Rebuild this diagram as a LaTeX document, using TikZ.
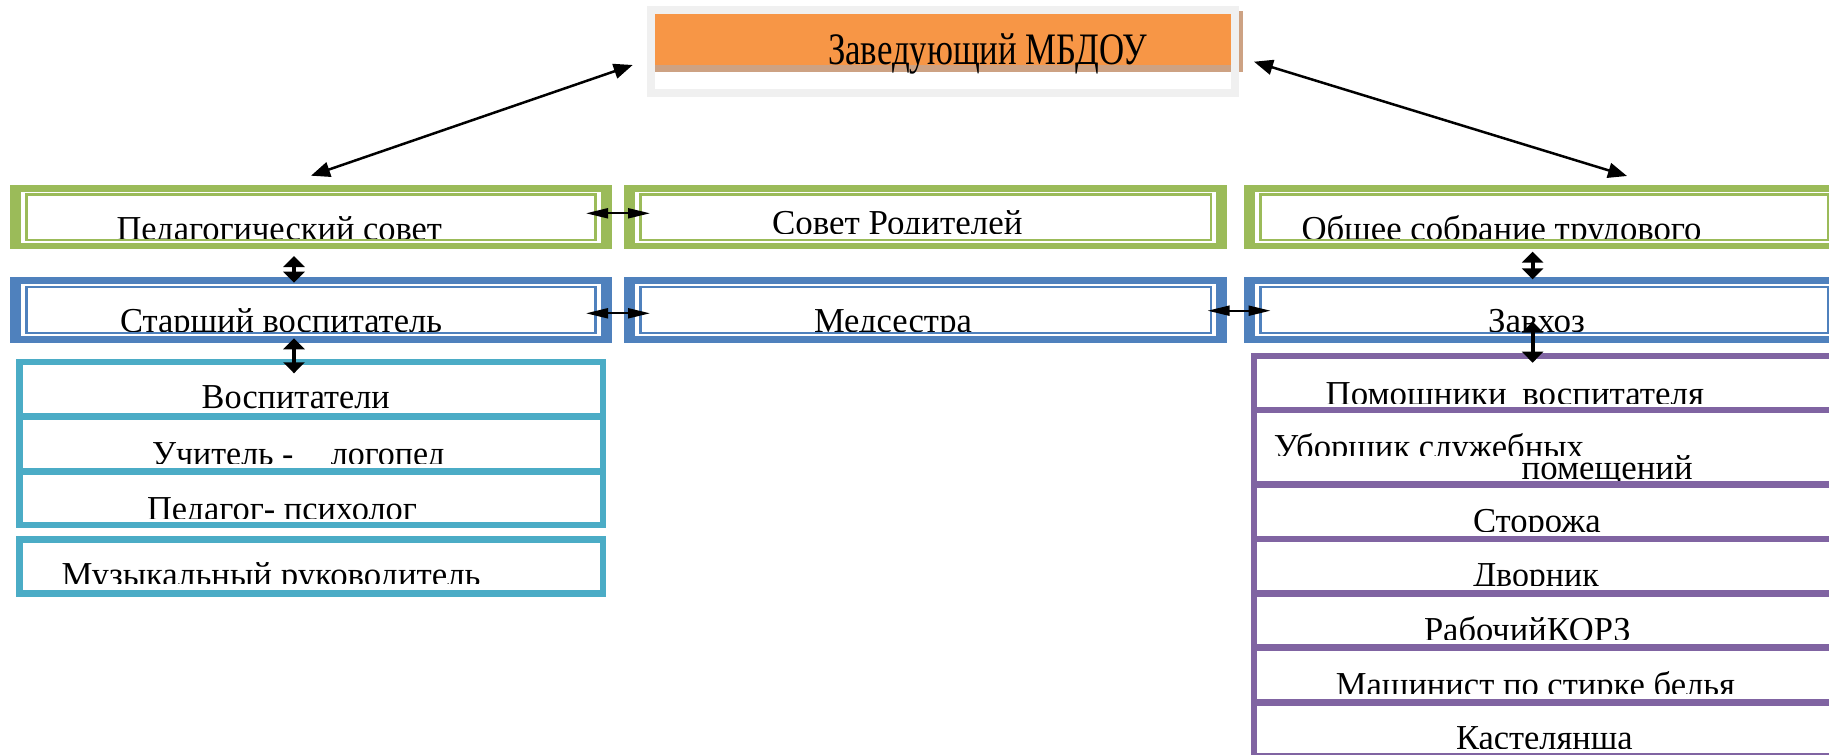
\documentclass[tikz,border=0pt]{standalone}
\usepackage{fontspec}
\setmainfont{Liberation Serif}
\usepackage{graphicx}
\usetikzlibrary{arrows.meta}
\definecolor{cgreen}{HTML}{9BBB59}
\definecolor{cblue}{HTML}{4F81BD}
\definecolor{ccyan}{HTML}{4BACC6}
\definecolor{cpurple}{HTML}{8064A2}
\definecolor{corange}{HTML}{F79646}
\definecolor{ctan}{HTML}{CDA283}
\definecolor{cframe}{HTML}{F0F0F0}
\tikzset{
  boxnode/.style={inner sep=0pt, outer sep=0pt, anchor=north west},
  lbl/.style={inner sep=0pt, outer sep=0pt, anchor=base west, font=\fontsize{35}{40}\selectfont},
  ttl/.style={inner sep=0pt, outer sep=0pt, anchor=base west, font=\fontsize{45}{50}\selectfont},
  cellbox/.style={boxnode, draw=#1, line width=6.5pt},
  harrow/.style={line width=2pt, {Triangle[length=22pt,width=10pt]}-{Triangle[length=22pt,width=10pt]}},
  varrow/.style={line width=4pt, {Triangle[length=11pt,width=21pt]}-{Triangle[length=11pt,width=21pt]}},
  darrow/.style={line width=2.5pt, {Triangle[length=19pt,width=15pt]}-{Triangle[length=19pt,width=15pt]}}
}
% double (thick-thin) bordered box: name, x, y, width, height, colour
\newcommand{\dblbox}[6]{%
  \node[boxnode, fill=#6, minimum width=#4pt, minimum height=#5pt] (#1) at (#2,#3) {};
  \fill[white] ([shift={(11,6.5)}]#1.north west) rectangle ([shift={(-11,-6.5)}]#1.south east);
  \draw[#6, line width=2.5pt] ([shift={(16.5,9.5)}]#1.north west) rectangle ([shift={(-16.5,-9.5)}]#1.south east);
}
% clipped label: name, x, baseline, width, cut y, text
\newcommand{\cutlbl}[6]{%
  \begin{scope}
    \clip (#2-10,#3-60) rectangle (#2+#4+10,#5);
    \node[lbl] (#1) at (#2,#3) {\resizebox{#4pt}{\height}{#6}};
  \end{scope}
}
\begin{document}
\begin{tikzpicture}[x=1pt,y=-1pt]
\useasboundingbox (0,0) rectangle (1829,755);

% ---- head box ----
\fill[ctan] (650,11) rectangle (1243.3,71.7);
\node[boxnode, draw=cframe, line width=8pt, minimum width=584.2pt, minimum height=83.3pt] (headframe) at (650.6,10) {};
\node[boxnode, fill=corange, minimum width=576pt, minimum height=51pt] (head) at (654.7,14) {};
\node[ttl] (headtxt) at (828,64) {\resizebox{319pt}{\height}{Заведующий МБДОУ}};

% ---- green row ----
\dblbox{g1}{10}{185}{602}{64.3}{cgreen}
\dblbox{g2}{624}{185}{603.4}{64.3}{cgreen}
\dblbox{g3}{1244}{185}{601}{64.3}{cgreen}
% ---- blue row ----
\dblbox{b1}{10}{277.3}{602}{65.4}{cblue}
\dblbox{b2}{624}{277.3}{603.4}{65.4}{cblue}
\dblbox{b3}{1244}{277.3}{601}{65.4}{cblue}

% ---- cyan column ----
\node[cellbox=ccyan, minimum width=583.6pt, minimum height=54.5pt] (c1) at (19.4,362.2) {};
\node[cellbox=ccyan, minimum width=583.6pt, minimum height=54.6pt] (c2) at (19.4,416.7) {};
\node[cellbox=ccyan, minimum width=583.6pt, minimum height=53.7pt] (c3) at (19.4,471.3) {};
\node[cellbox=ccyan, minimum width=583.6pt, minimum height=53.6pt] (c4) at (19.4,539.7) {};

% ---- purple column ----
\node[cellbox=cpurple, minimum width=600pt, minimum height=54pt] (p1) at (1253.8,356) {};
\node[cellbox=cpurple, minimum width=600pt, minimum height=74.7pt] (p2) at (1253.8,410) {};
\node[cellbox=cpurple, minimum width=600pt, minimum height=54.5pt] (p3) at (1253.8,484.7) {};
\node[cellbox=cpurple, minimum width=600pt, minimum height=54.5pt] (p4) at (1253.8,539.2) {};
\node[cellbox=cpurple, minimum width=600pt, minimum height=54pt] (p5) at (1253.8,593.7) {};
\node[cellbox=cpurple, minimum width=600pt, minimum height=54.8pt] (p6) at (1253.8,647.7) {};
\node[cellbox=cpurple, minimum width=600pt, minimum height=53.5pt] (p7) at (1253.8,702.5) {};

% ---- labels ----
\cutlbl{tg1}{116.5}{240}{325.5}{238.3}{Педагогический совет}
\cutlbl{tg2}{772}{234.8}{250.5}{233.5}{Совет Родителей}
\cutlbl{tg3}{1301.5}{240}{400}{238.3}{Общее собрание трудового}
\cutlbl{tb1}{120}{332.5}{322}{331.7}{Старший воспитатель}
\cutlbl{tb2}{814}{332.5}{158}{331.7}{Медсестра}
\cutlbl{tb3}{1488}{332.5}{97}{331.7}{Завхоз}
\cutlbl{tc1}{201.7}{408.3}{188}{415}{Воспитатели}
\cutlbl{tc2}{152}{465}{293}{463.3}{Учитель -\hspace{1.1em}логопед}
\cutlbl{tc3}{147}{520}{270}{518.3}{Педагог- психолог}
\cutlbl{tc4}{61.5}{586.5}{419}{583.3}{Музыкальный руководитель}
\cutlbl{tp1}{1325.6}{405}{378.4}{403.3}{Помощники\hspace{0.45em}воспитателя}
\cutlbl{tp2a}{1273.8}{458.2}{310}{455}{Уборщик служебных}
\cutlbl{tp2b}{1521.7}{479.5}{171}{480}{помещений}
\cutlbl{tp3}{1473}{532.5}{127.6}{531.7}{Сторожа}
\cutlbl{tp4}{1473}{586}{125.8}{585}{Дворник}
\cutlbl{tp5}{1424}{641}{206.7}{639.3}{РабочийКОРЗ}
\cutlbl{tp6}{1335.8}{696}{399.2}{693.3}{Машинист по стирке белья}
\cutlbl{tp7}{1456}{749.2}{176.6}{748.3}{Кастелянша}

% ---- arrow end points ----
\coordinate (hL) at (632.7,65);
\coordinate (g1T) at (311,175.7);
\coordinate (hR) at (1254,61.7);
\coordinate (g3T) at (1627,176);
\coordinate (g1R) at (586,213.3);
\coordinate (g2L) at (650,213.3);
\coordinate (b1R) at (586,313.3);
\coordinate (b2L) at (650,313.3);
\coordinate (b2R) at (1207.6,310.7);
\coordinate (b3L) at (1270.5,310.7);
\coordinate (g1B) at (294,256);
\coordinate (b1T) at (294,282.7);
\coordinate (b1B) at (294,338.3);
\coordinate (c1T) at (294,373.3);
\coordinate (g3B) at (1532.6,251.7);
\coordinate (b3T) at (1532.6,279.3);
\coordinate (b3B) at (1532.6,321.7);
\coordinate (p1T) at (1532.6,362.7);

% ---- connectors ----
\draw[darrow] (hL) -- (g1T);
\draw[darrow] (hR) -- (g3T);
\draw[harrow] (g1R) -- (g2L);
\draw[harrow] (b1R) -- (b2L);
\draw[harrow] (b2R) -- (b3L);
\draw[varrow] (g1B) -- (b1T);
\draw[varrow] (b1B) -- (c1T);
\draw[varrow] (g3B) -- (b3T);
\draw[varrow] (b3B) -- (p1T);
\end{tikzpicture}
\end{document}
